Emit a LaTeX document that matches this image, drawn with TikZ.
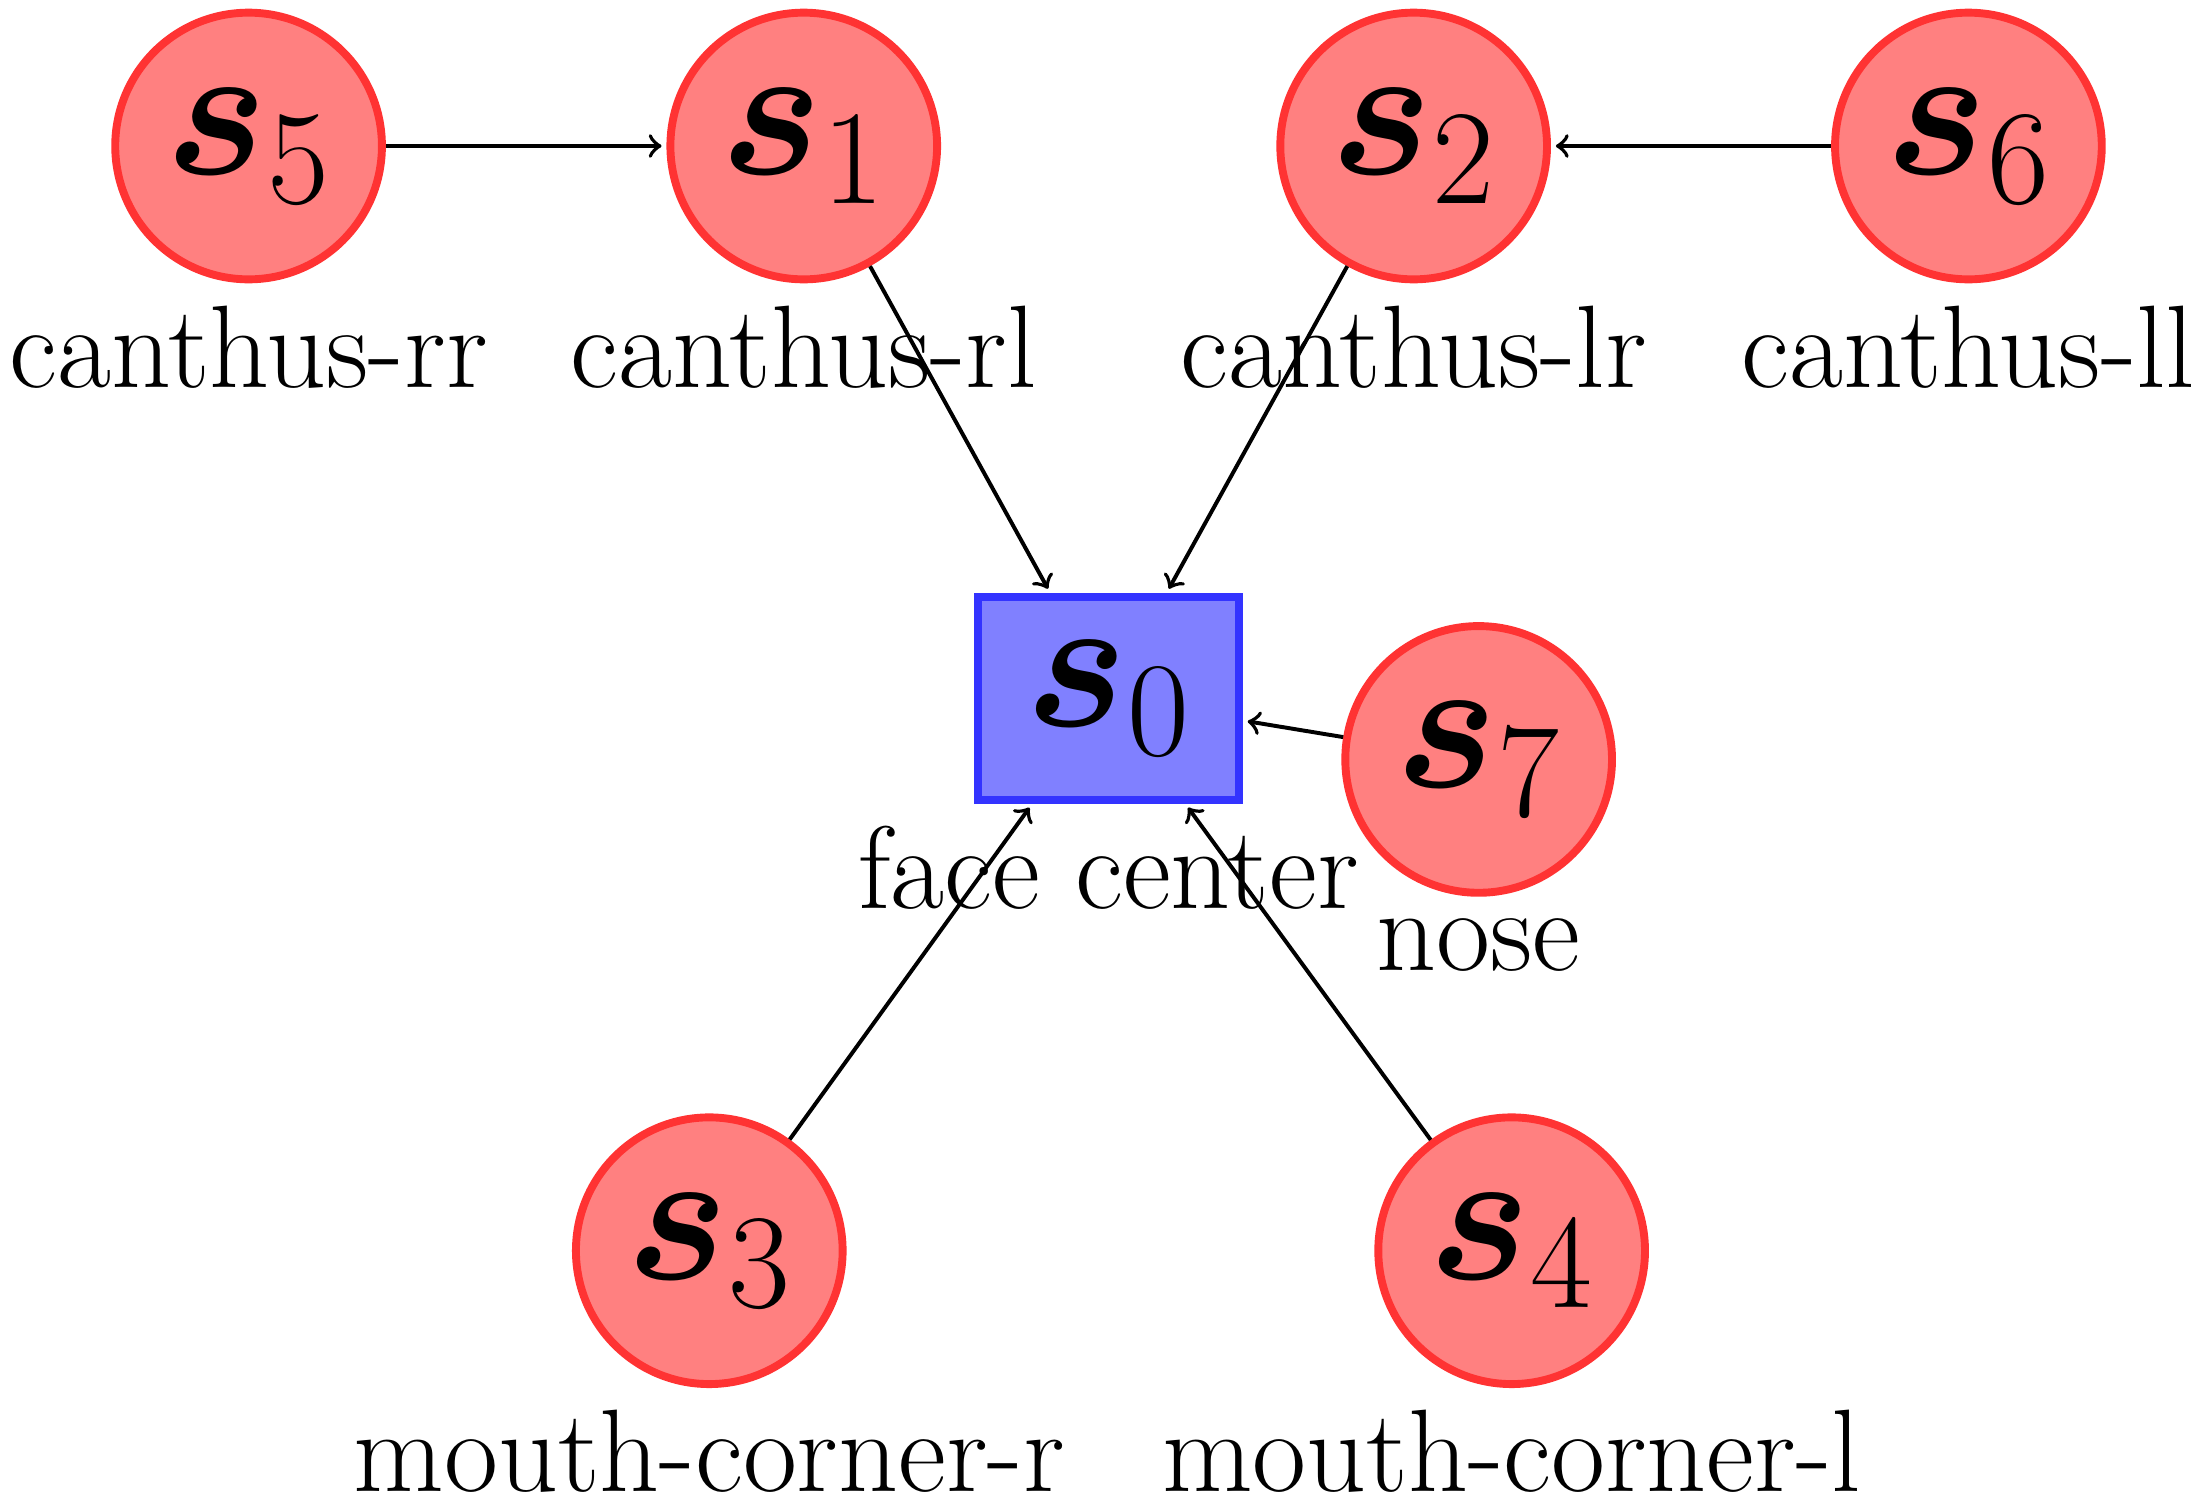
\RequirePackage{fix-cm}
\documentclass[tikz,border=0pt]{standalone}
\usepackage{amsmath}
\usetikzlibrary{positioning}

\begin{document}
\begin{tikzpicture}[ shorten >=1pt , on grid , auto ,
  landmark/.style = { circle , draw = red!80 , fill = red!50 , ultra thick , minimum size = 1.90cm , inner sep = 0pt , font = \fontsize{39}{47}\selectfont } ,
  root/.style = { rectangle , draw = blue!80 , fill = blue!50 , ultra thick , minimum width = 1.86cm , minimum height = 1.444cm , inner sep = 0pt , font = \fontsize{39}{47}\selectfont } ,
  every label/.style = { font = \fontsize{23.8}{28}\selectfont , label distance = 1pt } ]
\useasboundingbox (-7.896,-5.702) rectangle (7.784,4.975);
\node [ root , label = below:face center ] (s0) {$\boldsymbol{s}_0$};
\node [ landmark , label = below:canthus-rl ] (s1) [ above left = 3.935cm and 2.17cm of s0 ] {$\boldsymbol{s}_1$};
\node [ landmark , label = below:canthus-lr ] (s2) [ above right = 3.935cm and 2.175cm of s0 ] {$\boldsymbol{s}_2$};
\node [ landmark , label = below:canthus-rr ] (s5) [ left = 3.955cm of s1 ] {$\boldsymbol{s}_5$};
\node [ landmark , label = below:canthus-ll ] (s6) [ right = 3.952cm of s2 ] {$\boldsymbol{s}_6$};
\node [ landmark , label = below:nose ] (s7) [ below right = 0.435cm and 2.638cm of s0 ] {$\boldsymbol{s}_7$};
\node [ landmark , label = below:mouth-corner-r ] (s3) [ below left = 3.935cm and 2.843cm of s0 ] {$\boldsymbol{s}_3$};
\node [ landmark , label = below:mouth-corner-l ] (s4) [ below right = 3.935cm and 2.873cm of s0 ] {$\boldsymbol{s}_4$};
\path [->, thick]
(s5) edge (s1)
(s6) edge (s2)
(s1) edge (s0)
(s2) edge (s0)
(s7) edge (s0)
(s3) edge (s0)
(s4) edge (s0);
\end{tikzpicture}
\end{document}
